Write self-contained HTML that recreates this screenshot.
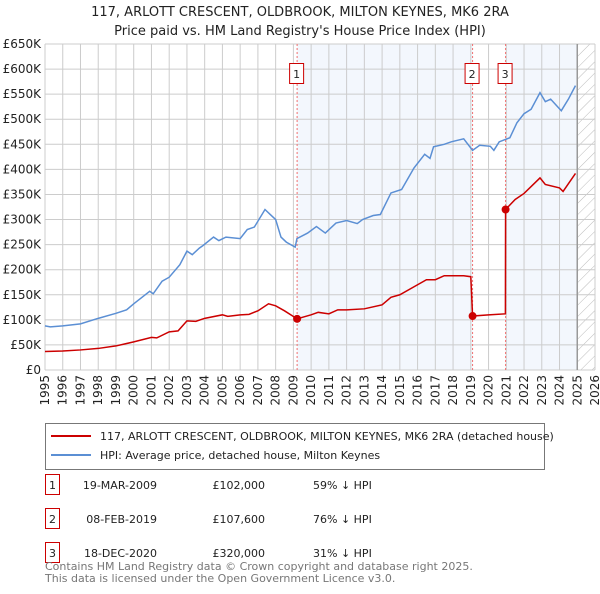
<!DOCTYPE html>
<html><head><meta charset="utf-8"><style>
body{margin:0;background:#fff;font-family:"DejaVu Sans","Liberation Sans",sans-serif;}
svg text{font-family:"DejaVu Sans","Liberation Sans",sans-serif;}
</style></head><body>
<svg id="chart" width="600" height="590" xmlns="http://www.w3.org/2000/svg">
<text x="300" y="16" text-anchor="middle" font-size="13" fill="#222">117, ARLOTT CRESCENT, OLDBROOK, MILTON KEYNES, MK6 2RA</text>
<text x="300" y="35" text-anchor="middle" font-size="13" fill="#222">Price paid vs. HM Land Registry's House Price Index (HPI)</text>
<defs><pattern id="hatch" width="8" height="8" patternUnits="userSpaceOnUse" patternTransform="rotate(45)"><line x1="0" y1="0" x2="0" y2="8" stroke="#bbb" stroke-width="1"/></pattern></defs>
<g id="bg"></g><g id="grid"></g><g id="marks"></g><g id="axes"></g>
<g>
<rect x="45.5" y="423.5" width="499" height="46" fill="#fff" stroke="#777"/>
<line x1="51" y1="436" x2="91" y2="436" stroke="#cc0000" stroke-width="2"/>
<text x="100" y="440" font-size="11" fill="#222">117, ARLOTT CRESCENT, OLDBROOK, MILTON KEYNES, MK6 2RA (detached house)</text>
<line x1="51" y1="455" x2="91" y2="455" stroke="#5b8fd4" stroke-width="2"/>
<text x="100" y="459" font-size="11" fill="#222">HPI: Average price, detached house, Milton Keynes</text>
</g>
<g font-size="11" fill="#222">
<rect x="45.5" y="474.5" width="14" height="20" fill="#fff" stroke="#cc0000"/><text x="52.5" y="489" text-anchor="middle">1</text>
<text x="157" y="489" text-anchor="end">19-MAR-2009</text><text x="265" y="489" text-anchor="end">£102,000</text><text x="313" y="489">59% ↓ HPI</text>
<rect x="45.5" y="508.5" width="14" height="20" fill="#fff" stroke="#cc0000"/><text x="52.5" y="523" text-anchor="middle">2</text>
<text x="157" y="523" text-anchor="end">08-FEB-2019</text><text x="265" y="523" text-anchor="end">£107,600</text><text x="313" y="523">76% ↓ HPI</text>
<rect x="45.5" y="542.5" width="14" height="20" fill="#fff" stroke="#cc0000"/><text x="52.5" y="557" text-anchor="middle">3</text>
<text x="157" y="557" text-anchor="end">18-DEC-2020</text><text x="265" y="557" text-anchor="end">£320,000</text><text x="313" y="557">31% ↓ HPI</text>
</g>
<text x="45" y="570" font-size="11" fill="#777">Contains HM Land Registry data © Crown copyright and database right 2025.</text>
<text x="45" y="582" font-size="11" fill="#777">This data is licensed under the Open Government Licence v3.0.</text>
</svg>
<script>
const hpiYears=[1995,1995.3,1996,1997,1998,1999,1999.6,2000,2000.9,2001.1,2001.6,2002,2002.6,2003,2003.3,2003.7,2003.9,2004.5,2004.8,2005.2,2006,2006.4,2006.8,2007.4,2007.7,2008,2008.3,2008.6,2009.1,2009.2,2009.8,2010.3,2010.8,2011.4,2012,2012.6,2012.9,2013.5,2013.9,2014.5,2015.1,2015.8,2016.4,2016.7,2016.9,2017.5,2017.9,2018.6,2019.1,2019.5,2020.1,2020.3,2020.6,2021.2,2021.6,2022,2022.4,2022.9,2023.2,2023.5,2024.1,2024.5,2024.9];
const hpiValues=[88,86,88,92,103,113,120,132,157,152,177,185,210,237,230,243,248,265,258,265,262,280,285,320,310,300,265,255,245,262,273,286,273,293,298,292,300,308,310,353,360,403,430,422,445,450,455,461,438,448,446,438,455,463,493,511,520,553,535,540,517,540,567];
const redYears=[1995,1996,1997,1998,1999,2000,2001,2001.3,2002,2002.5,2003,2003.5,2004,2005,2005.3,2006,2006.5,2007,2007.6,2008,2008.5,2009.21,2010,2010.4,2011,2011.5,2012,2013,2014,2014.5,2015,2016,2016.5,2017,2017.5,2018.6,2019.0,2019.1,2020.0,2020.95,2020.96,2021.5,2022,2022.9,2023.2,2024,2024.2,2024.9];
const redValues=[37,38,40,43,48,56,65,64,76,78,98,97,103,110,107,110,111,118,132,128,118,102,110,115,112,120,120,122,130,145,150,170,180,180,188,188,186,107.6,110,112,320,340,352,383,370,363,356,392];
const saleLabels=["1","2","3"];
const saleYears=[2009.21,2019.1,2020.96];
const saleValues=[102,107.6,320];
const yTicks=[0,50,100,150,200,250,300,350,400,450,500,550,600,650];
const yTickLabels=["£0","£50K","£100K","£150K","£200K","£250K","£300K","£350K","£400K","£450K","£500K","£550K","£600K","£650K"];
const xTicks=[1995,1996,1997,1998,1999,2000,2001,2002,2003,2004,2005,2006,2007,2008,2009,2010,2011,2012,2013,2014,2015,2016,2017,2018,2019,2020,2021,2022,2023,2024,2025,2026];

const X0=45,X1=595,Y0=370,Y1=44;
const sx=y=>X0+(y-1995)/(2026-1995)*(X1-X0);
const sy=v=>Y0-v/650*(Y0-Y1);
const NS="http://www.w3.org/2000/svg";
function mk(p,tag,at){const e=document.createElementNS(NS,tag);for(const k in at)e.setAttribute(k,at[k]);p.appendChild(e);return e;}
const bg=document.getElementById('bg'),grid=document.getElementById('grid'),marks=document.getElementById('marks'),axes=document.getElementById('axes');
let r=mk(bg,'rect',{x:sx(saleYears[0]),y:Y1,width:sx(saleYears[1])-sx(saleYears[0]),height:Y0-Y1,fill:'#eef3fc',opacity:0.7});


r=mk(bg,'rect',{x:sx(saleYears[2]),y:Y1,width:sx(2025)-sx(saleYears[2]),height:Y0-Y1,fill:'#eef3fc',opacity:0.7});


r=mk(bg,'rect',{x:sx(2025),y:Y1,width:X1-sx(2025),height:Y0-Y1,fill:'url(#hatch)'});


xTicks.forEach(t=>{const l=mk(grid,'line',{x1:sx(t),x2:sx(t),y1:Y1,y2:Y0,stroke:'#ccc','stroke-width':1});


const tx=mk(axes,'text',{x:0,y:0,'font-size':12,fill:'#222','text-anchor':'end',transform:`translate(${sx(t)+4},375) rotate(-90)`});tx.textContent=t;

});
yTicks.forEach((t,i)=>{const l=mk(grid,'line',{x1:X0,x2:X1,y1:sy(t),y2:sy(t),stroke:'#ccc','stroke-width':1});


const tx=mk(axes,'text',{x:41,y:sy(t)+4,'font-size':12,fill:'#222','text-anchor':'end'});tx.textContent=yTickLabels[i];

});
const nl=mk(grid,'line',{x1:sx(2025),x2:sx(2025),y1:Y1,y2:Y0,stroke:'#999','stroke-width':1.5});


saleYears.forEach((y,i)=>{const l=mk(grid,'line',{x1:sx(y),x2:sx(y),y1:Y1,y2:Y0,stroke:'#f07070','stroke-width':1,'stroke-dasharray':'2,2'});

});
const hp=mk(marks,'polyline',{points:hpiYears.map((y,i)=>sx(y)+','+sy(hpiValues[i])).join(' '),fill:'none',stroke:'#5b8fd4','stroke-width':1.5});


const rp=mk(marks,'polyline',{points:redYears.map((y,i)=>sx(y)+','+sy(redValues[i])).join(' '),fill:'none',stroke:'#cc0000','stroke-width':1.5});


saleYears.forEach((y,i)=>{const c=mk(marks,'circle',{cx:sx(y),cy:sy(saleValues[i]),r:4,fill:'#cc0000'});


const b=mk(marks,'rect',{x:sx(y)-7.5,y:63.5,width:14,height:20,fill:'#fff',stroke:'#cc0000'});


const t=mk(marks,'text',{x:sx(y)-0.5,y:78,'font-size':11,'text-anchor':'middle',fill:'#222'});t.textContent=saleLabels[i];

});
</script>
</body></html>
